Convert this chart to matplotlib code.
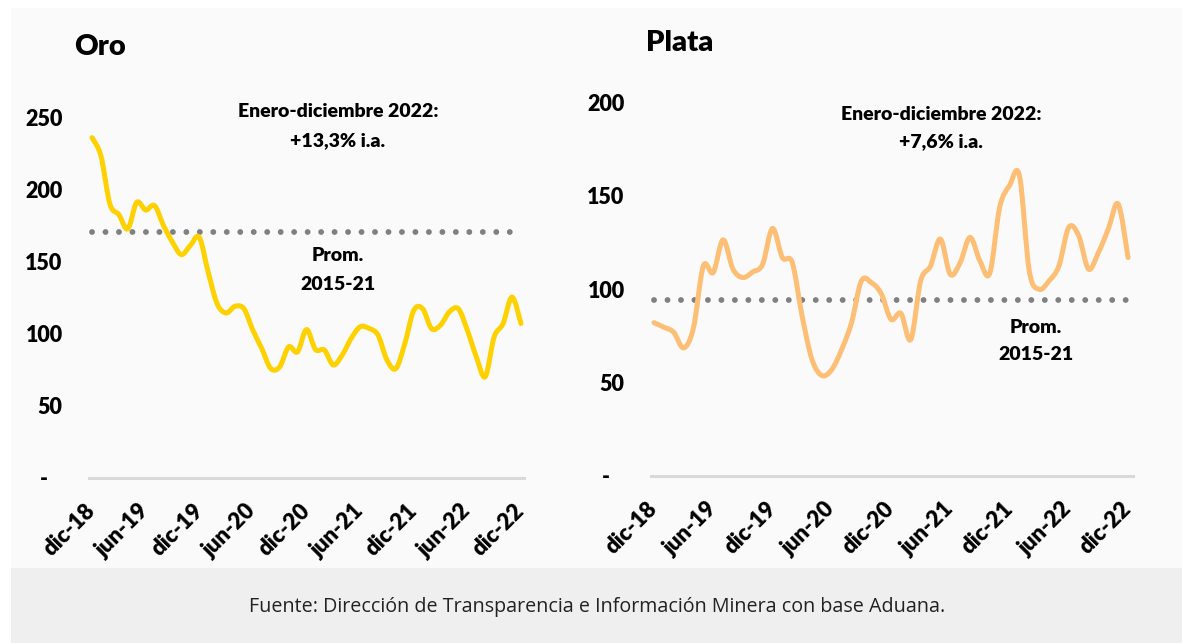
import numpy as np
import matplotlib
matplotlib.use('Agg')
import matplotlib.pyplot as plt
from matplotlib.patches import Rectangle, PathPatch
from matplotlib.path import Path

plt.rcParams['font.family'] = ['Lato', 'DejaVu Sans']

# =============================================================================
# DATA (indices, dic-18 = 100 aprox.)
# =============================================================================
months = np.arange(49)  # dic-18 ... dic-22
tick_pos = np.arange(0, 49, 6)
tick_labels = ['dic-18', 'jun-19', 'dic-19', 'jun-20', 'dic-20',
               'jun-21', 'dic-21', 'jun-22', 'dic-22']

oro = [235.7, 223.0, 189.7, 182.4, 172.5, 190.9, 185.6, 188.6, 174.8, 163.3,
       154.7, 161.0, 166.7, 142.5, 120.7, 114.3, 118.9, 117.2, 102.3, 89.6,
       75.8, 77.0, 90.8, 87.4, 102.8, 89.0, 88.6, 78.3, 85.2, 96.7,
       104.7, 103.6, 99.0, 81.8, 75.8, 93.0, 116.0, 117.2, 103.4, 105.9,
       115.1, 117.2, 102.3, 84.0, 70.1, 97.7, 106.9, 125.3, 107.0]
oro_prom = 170.2

plata = [82.1, 79.7, 77.0, 68.6, 79.4, 112.5, 109.0, 126.5, 110.8, 106.3,
         109.3, 113.4, 132.6, 117.0, 114.3, 85.7, 62.4, 53.8, 57.0, 67.7,
         82.1, 104.5, 103.6, 97.8, 83.9, 87.1, 73.1, 104.5, 112.5, 126.9,
         108.0, 114.3, 127.8, 115.2, 108.6, 143.9, 155.6, 160.9, 109.8, 100.0,
         104.5, 112.5, 133.2, 128.7, 110.8, 119.7, 132.3, 145.7, 117.0]
plata_prom = 94.3

oro_yticks = [0, 50, 100, 150, 200, 250]
plata_yticks = [0, 50, 100, 150, 200]

BOLD = 800

# =============================================================================
# HELPERS
# =============================================================================
def smooth_path(x, y):
    """Excel-like smoothed line: cubic Bezier through every data point"""
    pts = np.column_stack([x, y]).astype(float)
    ext = np.vstack([pts[0], pts, pts[-1]])
    verts = [pts[0]]
    codes = [Path.MOVETO]
    for i in range(len(pts) - 1):
        p0, p1, p2, p3 = ext[i], ext[i + 1], ext[i + 2], ext[i + 3]
        verts += [p1 + (p2 - p0) / 6, p2 - (p3 - p1) / 6, p2]
        codes += [Path.CURVE4] * 3
    return Path(verts, codes)


W, H = 1182, 643
fig = plt.figure(figsize=(W / 100, H / 100), dpi=100, facecolor='white')

# background panels (pixel -> figure fraction)
fig.patches.append(Rectangle((11 / W, (H - 568) / H), 1 - 11 / W, (568 - 8) / H,
                             transform=fig.transFigure, facecolor='#FAFAFA',
                             edgecolor='none', zorder=-2))
fig.patches.append(Rectangle((11 / W, 0), 1 - 11 / W, (H - 568) / H,
                             transform=fig.transFigure, facecolor='#EFEFEF',
                             edgecolor='none', zorder=-2))


def make_panel(rect, values, prom, color, ylim, yticks, xlim):
    ax = fig.add_axes(rect)
    ax.set_facecolor('none')
    ax.set_zorder(1)
    ax.plot(months, [prom] * len(months), color='#808080', lw=4.2,
            linestyle=(0, (0.01, 2.3)), dash_capstyle='round', zorder=2)
    ax.add_patch(PathPatch(smooth_path(months, values), facecolor='none',
                           edgecolor=color, lw=3.6, joinstyle='round',
                           capstyle='round', zorder=3))
    ax.set_xlim(*xlim)
    ax.set_ylim(*ylim)
    for s in ['top', 'right', 'left']:
        ax.spines[s].set_visible(False)
    ax.spines['bottom'].set_color('#D9D9D9')
    ax.spines['bottom'].set_linewidth(2.2)
    ax.set_yticks(yticks)
    ax.set_yticklabels(['-   '] + [str(v) for v in yticks[1:]],
                       fontsize=15.5, fontweight=BOLD)
    ax.set_xticks(tick_pos)
    ax.set_xticklabels(tick_labels, rotation=45, ha='right', va='center',
                       rotation_mode='anchor', fontsize=16, fontweight=BOLD)
    ax.tick_params(axis='y', length=0, pad=19)
    ax.tick_params(axis='x', length=0, pad=21)
    return ax


def note(ax, x, y, s):
    ax.text(x, y, s, ha='center', va='center', fontsize=14, fontweight=BOLD)


# Oro
ax1 = make_panel([89 / W, (H - 478) / H, 435 / W, 260 * 1.444 / H],
                 oro, oro_prom, '#FFD100', (0, 260), oro_yticks, (-0.34, 48.34))
note(ax1, 27.5, 253.5, 'Enero-diciembre 2022:')
note(ax1, 27.5, 233.4, '+13,3% i.a.')
note(ax1, 27.5, 154.4, 'Prom.')
note(ax1, 27.5, 134.3, '2015-21')

# Plata
ax2 = make_panel([651 / W, (H - 476) / H, 482 / W, 210 * 1.867 / H],
                 plata, plata_prom, '#FDBF75', (0, 210), plata_yticks, (-0.3, 48.5))
note(ax2, 29.1, 193.4, 'Enero-diciembre 2022:')
note(ax2, 29.1, 178.9, '+7,6% i.a.')
note(ax2, 38.7, 79.8, 'Prom.')
note(ax2, 38.7, 65.3, '2015-21')

# titles
fig.text(74 / W, 1 - 47 / H, 'Oro', ha='left', va='center',
         fontsize=21, fontweight=BOLD)
fig.text(646 / W, 1 - 43 / H, 'Plata', ha='left', va='center',
         fontsize=21, fontweight=BOLD)

# footer
fig.text(597 / W, 1 - 607 / H,
         'Fuente: Dirección de Transparencia e Información Minera con base Aduana.',
         ha='center', va='center', fontsize=14.2, color='#222222',
         family=['Open Sans', 'DejaVu Sans'])

fig.savefig('out.png', dpi=100, facecolor='white')
